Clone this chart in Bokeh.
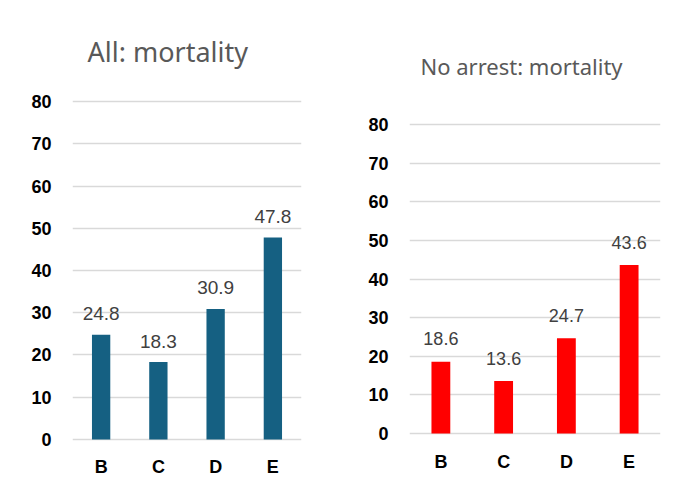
from bokeh.plotting import figure
from bokeh.models import FixedTicker, ColumnDataSource, Range1d
from bokeh.layouts import row
from bokeh.embed import file_html
from bokeh.resources import INLINE
from bokeh.core.properties import value

categories = ["B", "C", "D", "E"]
all_mortality = [24.8, 18.3, 30.9, 47.8]
no_arrest_mortality = [18.6, 13.6, 24.7, 43.6]
y_ticks = [0, 10, 20, 30, 40, 50, 60, 70, 80]

def make_panel(title, vals, color, y_end, fw, fh, bl, br, bt, bb, bar_w, t_font, t_standoff, t_offset,
               lab_font, lab_off, x_standoff):
    p = figure(x_range=categories, y_range=Range1d(-0.5, y_end), frame_width=fw, frame_height=fh,
               output_backend="svg", toolbar_location=None,
               min_border_left=bl, min_border_right=br, min_border_top=bt, min_border_bottom=bb)
    p.x_range.range_padding = 0
    p.outline_line_color = None
    p.background_fill_color = "white"
    p.title.text = title
    p.title.text_font = "Noto Sans"
    p.title.text_font_size = t_font
    p.title.text_font_style = "normal"
    p.title.text_color = "#595959"
    p.title.align = "left"
    p.title.offset = t_offset
    p.title.standoff = t_standoff
    src = ColumnDataSource(dict(x=categories, y=vals, lab=[f"{v:.1f}" for v in vals]))
    p.vbar(x="x", top="y", width=bar_w, bottom=0, source=src, fill_color=color, line_color=None)
    p.text(x="x", y="y", text="lab", source=src, text_align="center", text_baseline="middle",
           y_offset=-lab_off, text_font=value("Liberation Sans"), text_font_size=lab_font,
           text_color="#404040")
    p.yaxis.ticker = FixedTicker(ticks=y_ticks)
    p.ygrid.ticker = FixedTicker(ticks=y_ticks)
    p.ygrid.grid_line_color = "#d9d9d9"
    p.ygrid.grid_line_width = 1.5
    p.xgrid.grid_line_color = None
    for ax in (p.xaxis, p.yaxis):
        ax.axis_line_color = None
        ax.major_tick_line_color = None
        ax.minor_tick_line_color = None
        ax.major_tick_out = 0
        ax.major_tick_in = 0
        ax.minor_tick_out = 0
        ax.major_label_text_font = "Liberation Sans"
        ax.major_label_text_font_style = "bold"
        ax.major_label_text_font_size = "18px"
        ax.major_label_text_color = "black"
    p.yaxis.major_label_standoff = 21
    p.xaxis.major_label_standoff = x_standoff
    return p

p1 = make_panel("All: mortality", all_mortality, "#156082", 80.5, 229, 342, 72, 38, 98, 38, 0.32,
                "27px", 60, 15, "19px", 21, 15)
p2 = make_panel("No arrest: mortality", no_arrest_mortality, "#ff0000", 86.47, 251, 336, 70, 11, 98, 43, 0.30,
                "22px", 37, 11, "18px", 23, 16)

layout = row(p1, p2)
open("out.html", "w").write(file_html(layout, INLINE))
